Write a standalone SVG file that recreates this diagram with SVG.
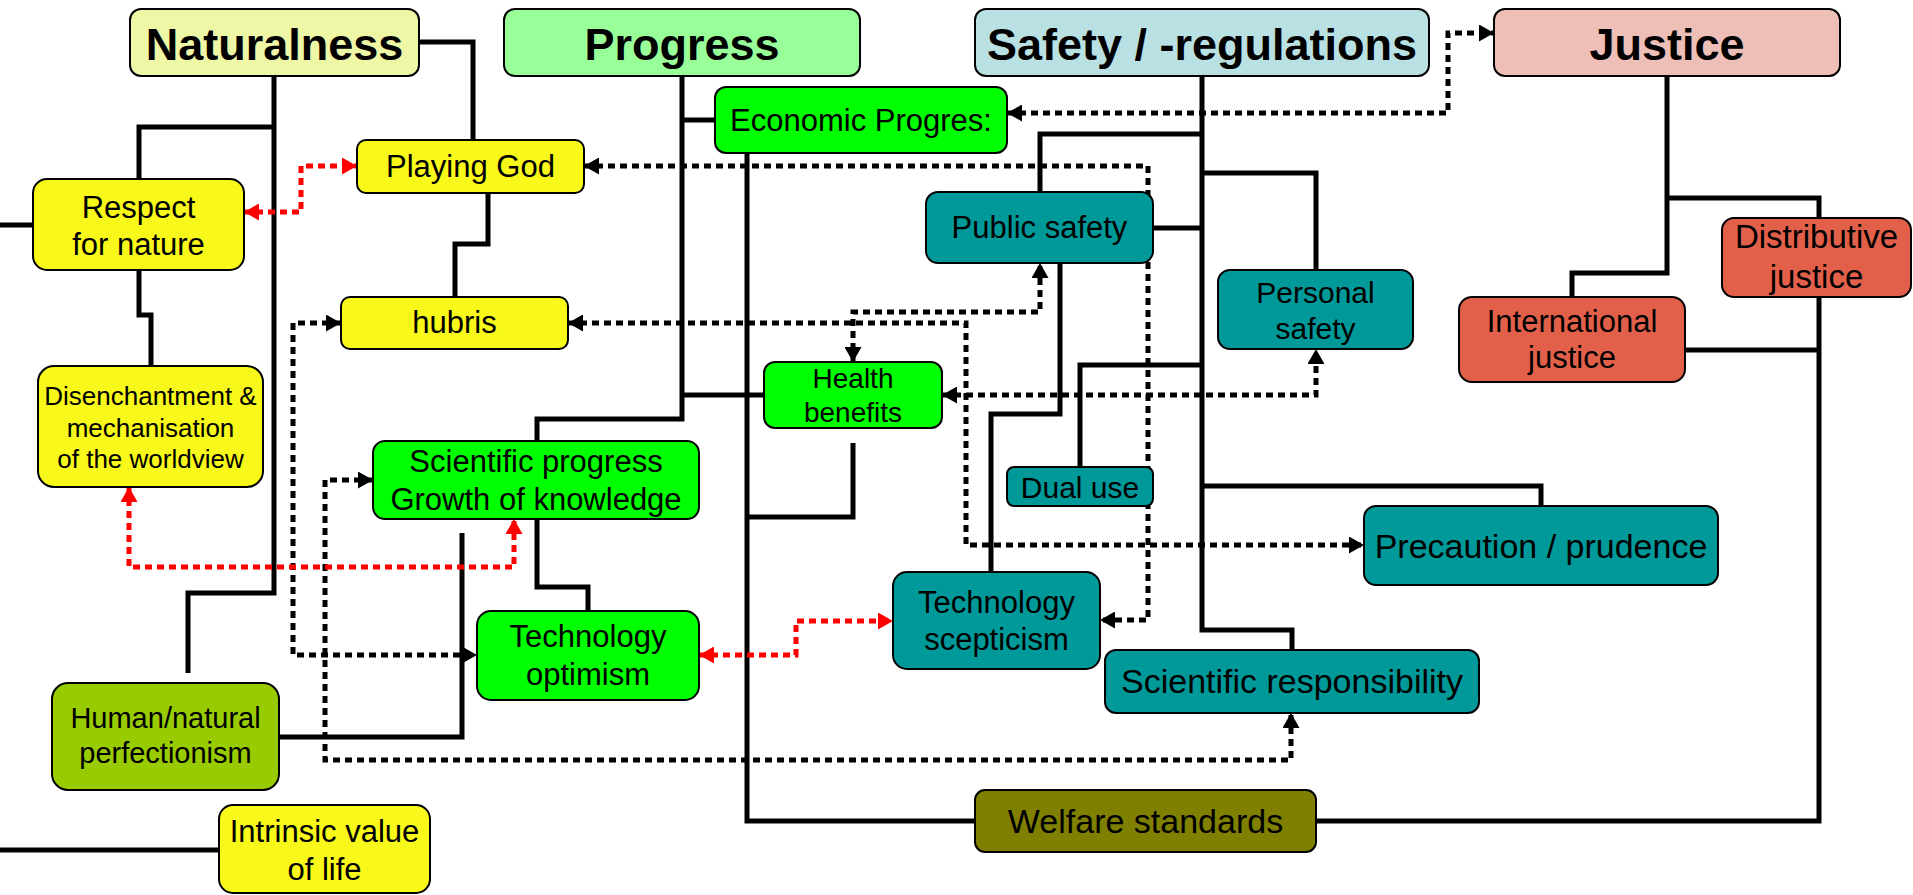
<svg xmlns="http://www.w3.org/2000/svg" width="1913" height="895" viewBox="0 0 1913 895">
<style>
.box{stroke:#000;stroke-width:2}
.t{font-family:"Liberation Sans",Arial,sans-serif;fill:#000;text-anchor:middle}
.h{font-weight:bold;font-size:45px}
.s{fill:none;stroke:#000;stroke-width:5;stroke-linejoin:miter}
.d{fill:none;stroke:#000;stroke-width:5;stroke-dasharray:7 5;marker-start:url(#ab);marker-end:url(#ab)}
.r{fill:none;stroke:#FF0000;stroke-width:5;stroke-dasharray:7 5;marker-start:url(#ar);marker-end:url(#ar)}
</style>
<defs>
<marker id="ab" markerUnits="userSpaceOnUse" markerWidth="16" markerHeight="17" refX="15" refY="8.5" orient="auto-start-reverse" viewBox="0 0 16 17"><path d="M0,0 L15,8.5 L0,17 z" fill="#000"/></marker>
<marker id="ar" markerUnits="userSpaceOnUse" markerWidth="16" markerHeight="17" refX="15" refY="8.5" orient="auto-start-reverse" viewBox="0 0 16 17"><path d="M0,0 L15,8.5 L0,17 z" fill="#FF0000"/></marker>
</defs>
<rect width="1913" height="895" fill="#fff"/>
<g id="connectors">
<!-- Naturalness tree -->
<path class="s" d="M274,76 V593 H188 V673"/>
<path class="s" d="M274,127 H139 V179"/>
<path class="s" d="M139,270 V315 H151 V366"/>
<path class="s" d="M419,42 H473 V140"/>
<path class="s" d="M488,193 V244 H455 V297"/>
<path class="s" d="M0,225 H33"/>
<path class="s" d="M0,850 H219"/>
<!-- Progress tree -->
<path class="s" d="M682,76 V419 H537 V441"/>
<path class="s" d="M682,120 H715"/>
<path class="s" d="M682,395 H764"/>
<path class="s" d="M747,153 V821 H975"/>
<path class="s" d="M853,443 V517 H747"/>
<path class="s" d="M537,519 V587 H588 V611"/>
<path class="s" d="M279,737 H462 V533"/>
<!-- Safety tree -->
<path class="s" d="M1202,76 V630 H1292 V650"/>
<path class="s" d="M1202,134 H1040 V192"/>
<path class="s" d="M1202,173 H1316 V270"/>
<path class="s" d="M1153,228 H1202"/>
<path class="s" d="M1202,365 H1080 V467"/>
<path class="s" d="M1202,486 H1541 V506"/>
<path class="s" d="M1060,263 V414 H991 V572"/>
<!-- Justice tree -->
<path class="s" d="M1667,76 V273 H1572 V297"/>
<path class="s" d="M1667,198 H1819 V218"/>
<path class="s" d="M1819,297 V821 H1316"/>
<path class="s" d="M1685,350 H1819"/>
<!-- dotted black -->
<path class="d" d="M1007,113 H1448 V33 H1494"/>
<path class="d" d="M584,166 H1148 V620 H1100"/>
<path class="d" d="M568,323 H966 V545 H1364"/>
<path class="d" d="M853,362 V312 H1040 V263"/>
<path class="d" d="M942,395 H1316 V349"/>
<path class="d" d="M341,323 H293 V655 H477"/>
<path class="d" d="M373,480 H325 V760 H1291 V713"/>
<!-- dotted red -->
<path class="r" d="M244,212 H301 V166 H357"/>
<path class="r" d="M129,487 V567 H514 V519"/>
<path class="r" d="M699,655 H796 V621 H893"/>
</g>
<g id="naturalness"><rect class="box" x="130" y="9" width="289" height="67" rx="11" fill="#EEF7A6"/><text class="t h" x="274.5" y="60">Naturalness</text></g>
<g id="progress"><rect class="box" x="504" y="9" width="356" height="67" rx="11" fill="#99FF99"/><text class="t h" x="682" y="60">Progress</text></g>
<g id="safety"><rect class="box" x="975" y="9" width="454" height="67" rx="11" fill="#B9E1E4"/><text class="t h" x="1202" y="60">Safety / -regulations</text></g>
<g id="justice"><rect class="box" x="1494" y="9" width="346" height="67" rx="11" fill="#EDBFB7"/><text class="t h" x="1667" y="60">Justice</text></g>
<g id="economic"><rect class="box" x="715" y="87" width="292" height="66" rx="11" fill="#00FF00"/><text class="t" font-size="31" x="861" y="131">Economic Progres:</text></g>
<g id="playinggod"><rect class="box" x="357" y="140" width="227" height="53" rx="9" fill="#F8F81A"/><text class="t" font-size="31" x="470.5" y="177">Playing God</text></g>
<g id="respect"><rect class="box" x="33" y="179" width="211" height="91" rx="14" fill="#F8F81A"/><text class="t" font-size="31" x="138.5" y="218">Respect</text><text class="t" font-size="31" x="138.5" y="255">for nature</text></g>
<g id="hubris"><rect class="box" x="341" y="297" width="227" height="52" rx="9" fill="#F8F81A"/><text class="t" font-size="31" x="454.5" y="333">hubris</text></g>
<g id="disenchantment"><rect class="box" x="38" y="366" width="225" height="121" rx="16" fill="#F8F81A"/><text class="t" font-size="26" x="150.5" y="405">Disenchantment &amp;</text><text class="t" font-size="26" x="150.5" y="437">mechanisation</text><text class="t" font-size="26" x="150.5" y="468">of the worldview</text></g>
<g id="sciprogress"><rect class="box" x="373" y="441" width="326" height="78" rx="12" fill="#00FF00"/><text class="t" font-size="31" x="536" y="472">Scientific progress</text><text class="t" font-size="31" x="536" y="510">Growth of knowledge</text></g>
<g id="health"><rect class="box" x="764" y="362" width="178" height="66" rx="11" fill="#00FF00"/><text class="t" font-size="28" x="853" y="388">Health</text><text class="t" font-size="28" x="853" y="422">benefits</text></g>
<g id="techopt"><rect class="box" x="477" y="611" width="222" height="89" rx="14" fill="#00FF00"/><text class="t" font-size="31" x="588" y="647">Technology</text><text class="t" font-size="31" x="588" y="685">optimism</text></g>
<g id="human"><rect class="box" x="52" y="683" width="227" height="107" rx="16" fill="#99CC00"/><text class="t" font-size="29" x="165.5" y="728">Human/natural</text><text class="t" font-size="29" x="165.5" y="763">perfectionism</text></g>
<g id="intrinsic"><rect class="box" x="219" y="805" width="211" height="88" rx="14" fill="#F8F81A"/><text class="t" font-size="31" x="324.5" y="842">Intrinsic value</text><text class="t" font-size="31" x="324.5" y="880">of life</text></g>
<g id="publicsafety"><rect class="box" x="926" y="192" width="227" height="71" rx="12" fill="#009999"/><text class="t" font-size="31" x="1039.5" y="238">Public safety</text></g>
<g id="personalsafety"><rect class="box" x="1218" y="270" width="195" height="79" rx="12" fill="#009999"/><text class="t" font-size="30" x="1315.5" y="303">Personal</text><text class="t" font-size="30" x="1315.5" y="339">safety</text></g>
<g id="dualuse"><rect class="box" x="1007" y="467" width="146" height="39" rx="7" fill="#009999"/><text class="t" font-size="30" x="1080" y="498">Dual use</text></g>
<g id="techscep"><rect class="box" x="893" y="572" width="207" height="97" rx="14" fill="#009999"/><text class="t" font-size="31" x="996.5" y="613">Technology</text><text class="t" font-size="31" x="996.5" y="650">scepticism</text></g>
<g id="sciresp"><rect class="box" x="1105" y="650" width="374" height="63" rx="11" fill="#009999"/><text class="t" font-size="34" x="1292" y="693">Scientific responsibility</text></g>
<g id="precaution"><rect class="box" x="1364" y="506" width="354" height="79" rx="12" fill="#009999"/><text class="t" font-size="34" x="1541" y="558">Precaution / prudence</text></g>
<g id="welfare"><rect class="box" x="975" y="790" width="341" height="62" rx="10" fill="#808000"/><text class="t" font-size="34" x="1145.5" y="833">Welfare standards</text></g>
<g id="international"><rect class="box" x="1459" y="297" width="226" height="85" rx="13" fill="#E2604A"/><text class="t" font-size="31" x="1572" y="332">International</text><text class="t" font-size="31" x="1572" y="368">justice</text></g>
<g id="distributive"><rect class="box" x="1722" y="218" width="189" height="79" rx="12" fill="#E2604A"/><text class="t" font-size="33" x="1816.5" y="248">Distributive</text><text class="t" font-size="33" x="1816.5" y="288">justice</text></g>
</svg>
